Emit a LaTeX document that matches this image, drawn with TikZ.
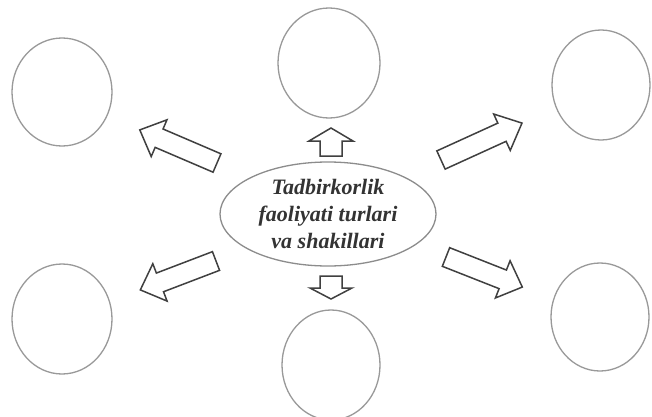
\documentclass[tikz,border=0pt]{standalone}
\usepackage{fontspec}
\setmainfont{Liberation Serif}
\usetikzlibrary{shapes.geometric}
\newcommand\blockarr[6]{%
  \begin{scope}[shift={#1}, rotate=#2]
    \draw[blockarrow] (0,-#4) -- ({#3-#6},-#4) -- ({#3-#6},-#5) -- (#3,0) -- ({#3-#6},#5) -- ({#3-#6},#4) -- (0,#4) -- cycle;
  \end{scope}}
\begin{document}
\begin{tikzpicture}[x=1pt,y=1pt,
  bubble/.style={draw=black!40, line width=1.3pt, ellipse, inner sep=0pt},
  hub/.style={draw=black!45, line width=1.3pt, ellipse, inner sep=0pt,
    minimum width=216pt, minimum height=104pt, align=center,
    font=\bfseries\itshape\fontsize{22}{27}\selectfont, text=black!80},
  blockarrow/.style={draw=black!75, line width=1.5pt, line join=miter}]
\fill[white] (0,0) rectangle (652,416);
\useasboundingbox (0,0) rectangle (652,416);
% circles
\node[bubble, minimum width=100pt, minimum height=108pt] (tl) at (62,324) {};
\node[bubble, minimum width=102pt, minimum height=110pt] (t)  at (329,353) {};
\node[bubble, minimum width=98pt,  minimum height=110pt] (tr) at (601,331) {};
\node[bubble, minimum width=100pt, minimum height=110pt] (bl) at (62,97) {};
\node[bubble, minimum width=98pt,  minimum height=110pt] (b)  at (331,51) {};
\node[bubble, minimum width=98pt,  minimum height=108pt] (br) at (600,99) {};
% centre
\node[hub] (c) at (328,202) {Tadbirkorlik\\faoliyati turlari\\va shakillari};
% block arrows
\blockarr{(217,253)}{156.8}{84}{10}{20}{21}
\blockarr{(441,256)}{24.5}{89}{10}{20}{22}
\blockarr{(216,155)}{200.9}{81}{10}{20}{21}
\blockarr{(446,159)}{-21.5}{82}{10}{20}{21}
\blockarr{(331,260)}{90}{28}{11}{22}{13}
\blockarr{(331,140)}{-90}{23}{11}{21}{11}
\end{tikzpicture}
\end{document}
